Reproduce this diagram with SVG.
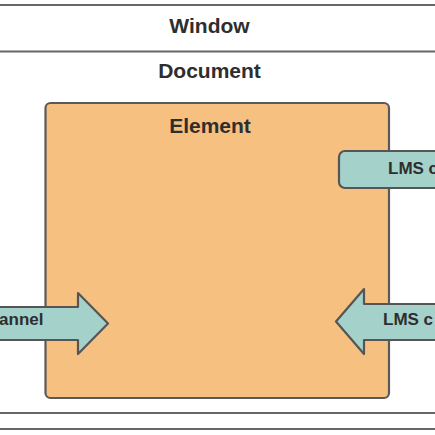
<svg xmlns="http://www.w3.org/2000/svg" width="435" height="435" viewBox="0 0 435 435">
<style>
.ln{stroke:#666;stroke-width:2.2;fill:none}
.t{font-family:"Liberation Sans",Arial,sans-serif;font-weight:bold;fill:#2e2e2e}
.big{font-size:21px}
.sm{font-size:17px}
.teal{fill:#a4d2ca;stroke:#555;stroke-width:2.2;stroke-linejoin:round}
</style>
<rect width="435" height="435" fill="#fff"/>
<g id="window">
<line class="ln" x1="0" y1="5" x2="435" y2="5"/>
<line class="ln" x1="0" y1="51.5" x2="435" y2="51.5"/>
<text class="t big" x="209.5" y="33" text-anchor="middle">Window</text>
</g>
<g id="document">
<text class="t big" x="209.5" y="78" text-anchor="middle">Document</text>
<line class="ln" x1="0" y1="413" x2="435" y2="413"/>
<line class="ln" x1="0" y1="429" x2="435" y2="429"/>
</g>
<g id="element">
<rect x="45.5" y="103" width="343.5" height="295" rx="5" fill="#f6c080" stroke="#5a5a5a" stroke-width="2.2"/>
<text class="t big" x="210" y="133" text-anchor="middle">Element</text>
</g>
<g id="connectors">
<g id="lms-top">
<rect class="teal" x="339" y="151" width="130" height="37" rx="6"/>
<text class="t sm" x="388" y="174">LMS c</text>
</g>
<g id="left-arrow">
<path class="teal" d="M -10,307 L 78,307 L 78,293 L 108,323.5 L 78,354 L 78,340 L -10,340 Z"/>
<text class="t sm" x="43.5" y="324.5" text-anchor="end">annel</text>
</g>
<g id="right-arrow">
<path class="teal" d="M 445,304 L 364,304 L 364,289 L 336,321.5 L 364,354 L 364,340 L 445,340 Z"/>
<text class="t sm" x="383" y="324.5">LMS c</text>
</g>
</g>
</svg>
